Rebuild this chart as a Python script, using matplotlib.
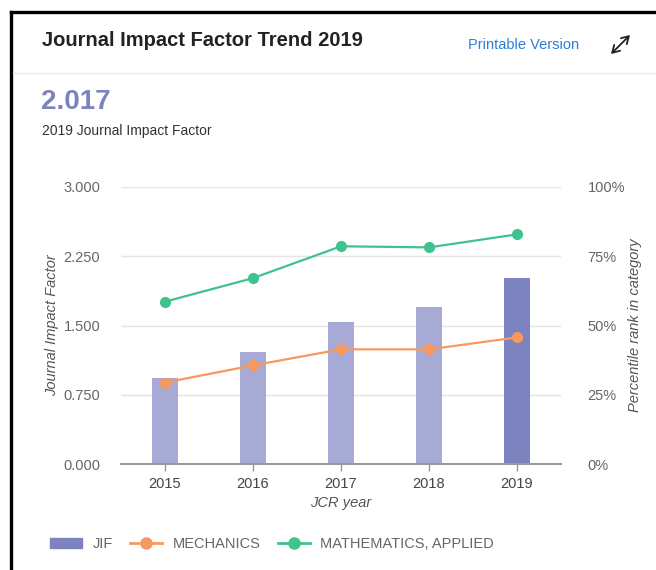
import matplotlib.pyplot as plt
from matplotlib.lines import Line2D
from matplotlib.patches import Patch, FancyArrowPatch

plt.rcParams['font.family'] = ['Liberation Sans', 'DejaVu Sans']

# Data
years = ['2015', '2016', '2017', '2018', '2019']
jif = [0.93, 1.21, 1.54, 1.70, 2.017]
mechanics = [29.4, 35.6, 41.4, 41.4, 45.7]
math_applied = [58.6, 67.1, 78.6, 78.2, 82.9]
jif_ticks = [0.0, 0.75, 1.5, 2.25, 3.0]
pct_ticks = [0, 25, 50, 75, 100]

BAR_LIGHT = '#a6aad4'
BAR_DARK = '#7c83be'
ORANGE = '#f7995f'
GREEN = '#3fc28d'
GRID = '#e4e4e4'
TICK = '#666666'

W, H = 656, 570
fig = plt.figure(figsize=(W / 100, H / 100), dpi=100)


def fx(px):
    return px / W


def fy(py):
    return 1 - py / H


# screenshot frame and header
fig.add_artist(Line2D([fx(11), fx(656)], [fy(12), fy(12)], color='black', lw=2.4))
fig.add_artist(Line2D([fx(11), fx(11)], [fy(12), fy(570)], color='black', lw=2.4))
fig.add_artist(Line2D([fx(13), fx(656)], [fy(73), fy(73)], color='#e8e8e8', lw=1))

fig.text(fx(42), fy(41), 'Journal Impact Factor Trend 2019', fontsize=14.5,
         fontweight='bold', color='#222222', va='center')
fig.text(fx(468), fy(45), 'Printable Version', fontsize=10.5, color='#2b7fd6', va='center')
fig.add_artist(FancyArrowPatch((fx(611), fy(54)), (fx(630), fy(35)),
                               transform=fig.transFigure,
                               arrowstyle='<->,head_length=0.5,head_width=0.3',
                               mutation_scale=10, color='#222222', lw=1.3,
                               shrinkA=0, shrinkB=0))
fig.text(fx(41), fy(102), '2.017', fontsize=20, fontweight='bold', color=BAR_DARK, va='center')
fig.text(fx(42), fy(131), '2019 Journal Impact Factor', fontsize=10, color='#333333', va='center')

# chart
ax = fig.add_axes([fx(121), fy(464), fx(561) - fx(121), fy(187) - fy(464)])
x = range(len(years))
colors = [BAR_LIGHT] * (len(years) - 1) + [BAR_DARK]
ax.bar(x, jif, width=0.3, color=colors, zorder=2)
ax.set_xlim(-0.5, len(years) - 0.5)
ax.set_ylim(0, 3.0)
ax.set_yticks(jif_ticks)
ax.set_yticklabels([f'{v:.3f}' for v in jif_ticks])
ax.set_xticks(list(x))
ax.set_xticklabels(years)
ax.grid(axis='y', color=GRID, lw=1, zorder=0)
for side in ['top', 'right', 'left']:
    ax.spines[side].set_visible(False)
ax.spines['bottom'].set_color('#999999')
ax.spines['bottom'].set_linewidth(1.5)
ax.tick_params(axis='y', length=0, pad=15, labelsize=10.5, labelcolor=TICK)
ax.tick_params(axis='x', length=5, color='#999999', width=1, pad=4,
               labelsize=10.5, labelcolor='#444444')
ax.set_ylabel('Journal Impact Factor', fontsize=10.5, style='italic', color='#555555',
              labelpad=3)
ax.set_xlabel('JCR year', fontsize=10.5, style='italic', color='#555555', labelpad=4)

ax2 = ax.twinx()
ax2.plot(x, mechanics, color=ORANGE, lw=1.6, marker='o', ms=7, zorder=3)
ax2.plot(x, math_applied, color=GREEN, lw=1.6, marker='o', ms=7, zorder=3)
ax2.set_ylim(0, 100)
ax2.set_yticks(pct_ticks)
ax2.set_yticklabels([f'{v}%' for v in pct_ticks])
for side in ['top', 'right', 'left', 'bottom']:
    ax2.spines[side].set_visible(False)
ax2.tick_params(axis='y', length=0, pad=19, labelsize=10.5, labelcolor=TICK)
ax2.set_ylabel('Percentile rank in category', fontsize=10.5, style='italic',
               color='#555555', labelpad=2)

# legend
handles = [
    Patch(color=BAR_DARK),
    Line2D([], [], color=ORANGE, lw=2, marker='o', ms=8),
    Line2D([], [], color=GREEN, lw=2, marker='o', ms=8),
]
fig.legend(handles, ['JIF', 'MECHANICS', 'MATHEMATICS, APPLIED'], loc='center left',
           bbox_to_anchor=(fx(50), fy(544)), ncol=3, frameon=False, fontsize=10.5,
           labelcolor='#666666', handlelength=2.2, handletextpad=0.7, columnspacing=1.2,
           borderpad=0, borderaxespad=0)

fig.savefig('out.png', dpi=100, facecolor='white')
